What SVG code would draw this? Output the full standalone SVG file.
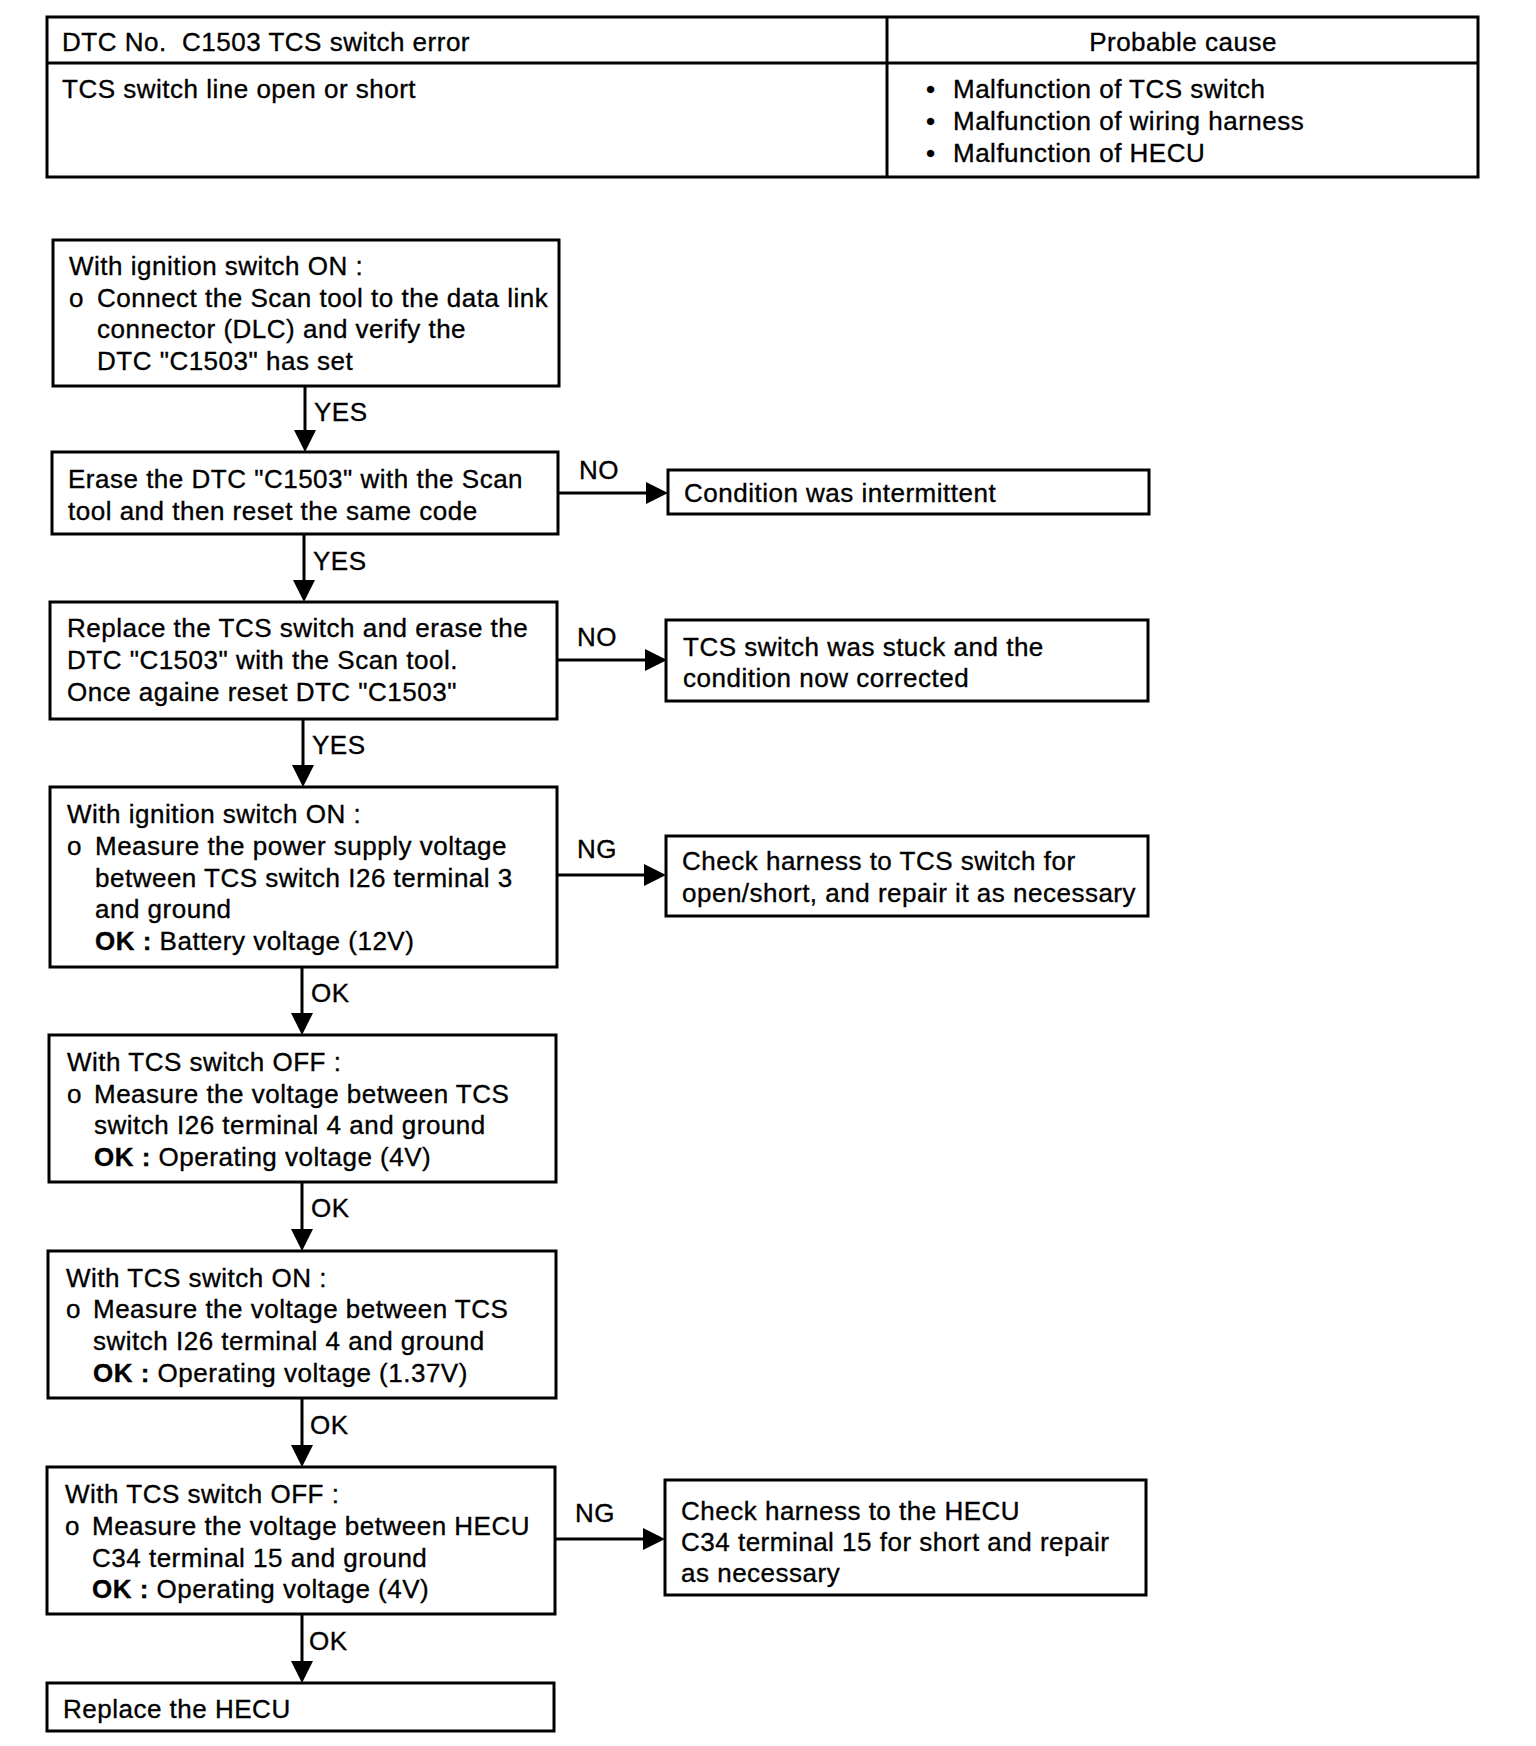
<svg xmlns="http://www.w3.org/2000/svg" width="1536" height="1746" viewBox="0 0 1536 1746">
<defs>
<marker id="ah" markerUnits="userSpaceOnUse" markerWidth="22" markerHeight="22" refX="6" refY="11" orient="auto">
<path d="M0,0 L22,11 L0,22 z" fill="#000"/>
</marker>
<style>
.box{fill:#fff;stroke:#000;stroke-width:3}
.ln{fill:none;stroke:#000;stroke-width:3}
.con{fill:none;stroke:#000;stroke-width:3;marker-end:url(#ah)}
text{font-family:"Liberation Sans",Arial,Helvetica,sans-serif;font-size:26px;letter-spacing:0.5px;fill:#000;stroke:#000;stroke-width:0.35px;white-space:pre}
.b{font-weight:bold}
.m{text-anchor:middle}
</style>
</defs>
<rect width="1536" height="1746" fill="#fff"/>

<g id="table">
<rect class="box" x="47" y="17" width="1431" height="160"/>
<line class="ln" x1="47" y1="63" x2="1478" y2="63"/>
<line class="ln" x1="887" y1="17" x2="887" y2="177"/>
<text x="62" y="51">DTC No.  C1503 TCS switch error</text>
<text x="62" y="98">TCS switch line open or short</text>
<text class="m" x="1183" y="51">Probable cause</text>
<text><tspan x="926" y="98">•</tspan><tspan x="953" y="98">Malfunction of TCS switch</tspan></text>
<text><tspan x="926" y="130">•</tspan><tspan x="953" y="130">Malfunction of wiring harness</tspan></text>
<text><tspan x="926" y="162">•</tspan><tspan x="953" y="162">Malfunction of HECU</tspan></text>
</g>

<g id="connectors">
<line class="con" x1="305" y1="386" x2="305" y2="436"/>
<line class="con" x1="304" y1="534" x2="304" y2="586"/>
<line class="con" x1="303" y1="719" x2="303" y2="771"/>
<line class="con" x1="302" y1="967" x2="302" y2="1019"/>
<line class="con" x1="302" y1="1182" x2="302" y2="1235"/>
<line class="con" x1="302" y1="1398" x2="302" y2="1451"/>
<line class="con" x1="302" y1="1614" x2="302" y2="1667"/>
<line class="con" x1="558" y1="493" x2="652" y2="493"/>
<line class="con" x1="557" y1="660" x2="651" y2="660"/>
<line class="con" x1="557" y1="875" x2="650" y2="875"/>
<line class="con" x1="555" y1="1539" x2="649" y2="1539"/>
<text x="314" y="421">YES</text>
<text x="313" y="570">YES</text>
<text x="312" y="754">YES</text>
<text x="311" y="1002">OK</text>
<text x="311" y="1217">OK</text>
<text x="310" y="1434">OK</text>
<text x="309" y="1650">OK</text>
<text x="579" y="479">NO</text>
<text x="577" y="646">NO</text>
<text x="577" y="858">NG</text>
<text x="575" y="1522">NG</text>
</g>

<g id="n1">
<rect class="box" x="53" y="240" width="506" height="146"/>
<text x="69" y="275">With ignition switch ON :</text>
<text x="69" y="307">o</text>
<text x="97" y="307">Connect the Scan tool to the data link</text>
<text x="97" y="338">connector (DLC) and verify the</text>
<text x="97" y="370">DTC "C1503" has set</text>
</g>

<g id="n2">
<rect class="box" x="52" y="452" width="506" height="82"/>
<text x="68" y="488">Erase the DTC "C1503" with the Scan</text>
<text x="68" y="520">tool and then reset the same code</text>
</g>

<g id="r1">
<rect class="box" x="668" y="470" width="481" height="44"/>
<text x="684" y="502">Condition was intermittent</text>
</g>

<g id="n3">
<rect class="box" x="50" y="602" width="507" height="117"/>
<text x="67" y="637">Replace the TCS switch and erase the</text>
<text x="67" y="669">DTC "C1503" with the Scan tool.</text>
<text x="67" y="701">Once againe reset DTC "C1503"</text>
</g>

<g id="r2">
<rect class="box" x="666" y="620" width="482" height="81"/>
<text x="683" y="656">TCS switch was stuck and the</text>
<text x="683" y="687">condition now corrected</text>
</g>

<g id="n4">
<rect class="box" x="50" y="787" width="507" height="180"/>
<text x="67" y="823">With ignition switch ON :</text>
<text x="67" y="855">o</text>
<text x="95" y="855">Measure the power supply voltage</text>
<text x="95" y="887">between TCS switch I26 terminal 3</text>
<text x="95" y="918">and ground</text>
<text x="95" y="950"><tspan class="b">OK :</tspan> Battery voltage (12V)</text>
</g>

<g id="r3">
<rect class="box" x="666" y="836" width="482" height="80"/>
<text x="682" y="870">Check harness to TCS switch for</text>
<text x="682" y="902">open/short, and repair it as necessary</text>
</g>

<g id="n5">
<rect class="box" x="49" y="1035" width="507" height="147"/>
<text x="67" y="1071">With TCS switch OFF :</text>
<text x="67" y="1103">o</text>
<text x="94" y="1103">Measure the voltage between TCS</text>
<text x="94" y="1134">switch I26 terminal 4 and ground</text>
<text x="94" y="1166"><tspan class="b">OK :</tspan> Operating voltage (4V)</text>
</g>

<g id="n6">
<rect class="box" x="48" y="1251" width="508" height="147"/>
<text x="66" y="1287">With TCS switch ON :</text>
<text x="66" y="1318">o</text>
<text x="93" y="1318">Measure the voltage between TCS</text>
<text x="93" y="1350">switch I26 terminal 4 and ground</text>
<text x="93" y="1382"><tspan class="b">OK :</tspan> Operating voltage (1.37V)</text>
</g>

<g id="n7">
<rect class="box" x="47" y="1467" width="508" height="147"/>
<text x="65" y="1503">With TCS switch OFF :</text>
<text x="65" y="1535">o</text>
<text x="92" y="1535">Measure the voltage between HECU</text>
<text x="92" y="1567">C34 terminal 15 and ground</text>
<text x="92" y="1598"><tspan class="b">OK :</tspan> Operating voltage (4V)</text>
</g>

<g id="r4">
<rect class="box" x="665" y="1480" width="481" height="115"/>
<text x="681" y="1520">Check harness to the HECU</text>
<text x="681" y="1551">C34 terminal 15 for short and repair</text>
<text x="681" y="1582">as necessary</text>
</g>

<g id="n8">
<rect class="box" x="47" y="1683" width="507" height="48"/>
<text x="63" y="1718">Replace the HECU</text>
</g>
</svg>
